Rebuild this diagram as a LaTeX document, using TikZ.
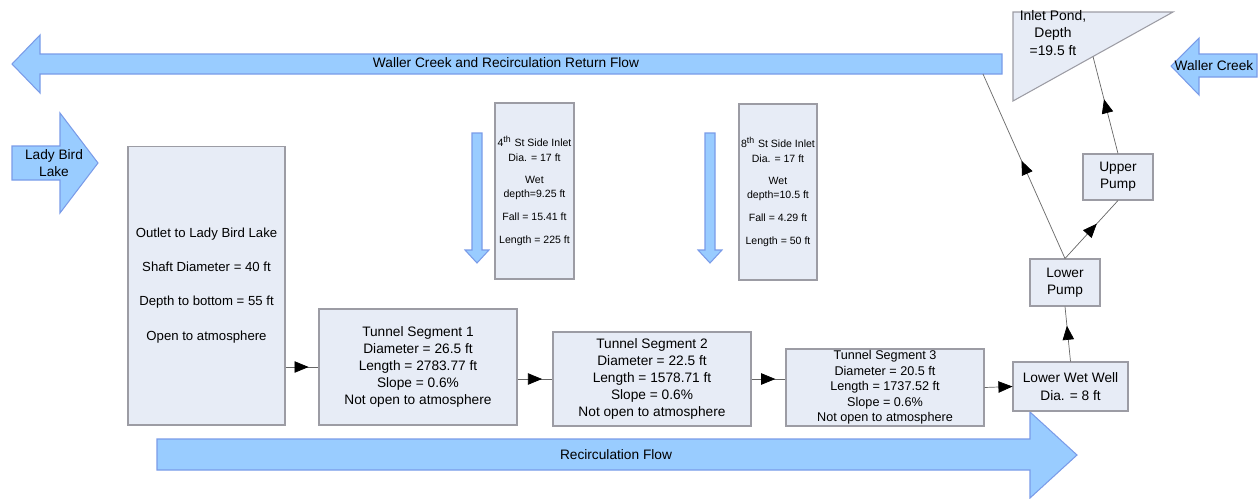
\documentclass[tikz,border=0pt]{standalone}
\usepackage{fontspec}
\setmainfont{Liberation Sans}
\usetikzlibrary{positioning}
\usetikzlibrary{calc}
\usetikzlibrary{arrows.meta}
\usetikzlibrary{decorations.markings}
\definecolor{boxfill}{HTML}{E7ECF6}
\definecolor{boxline}{HTML}{9C9CA4}
\definecolor{flowfill}{HTML}{99CCFF}
\definecolor{flowline}{HTML}{7A9BE8}
\tikzset{unit/.style={draw=boxline, fill=boxfill, align=center, inner sep=0pt, line width=0.6pt,
	font=\fontsize{7.8}{9.8}\selectfont},
	flow/.style={draw=flowline, fill=flowfill, line width=0.6pt},
	flowtext/.style={align=center, inner sep=0pt, font=\fontsize{7.8}{9.7}\selectfont},
	link/.style={draw=black!60, line width=0.4pt, postaction={decorate},
	decoration={markings, mark=at position #1 with {\arrow[black]{Triangle[length=8pt,width=6.5pt]}}}},
	link/.default=0.6}

\begin{document}
\begin{tikzpicture}[x=0.02cm, y=-0.02cm]
	\useasboundingbox (0,0) rectangle (1259,498);
	% flow arrows
	\draw[flow] (1002,54) -- (40,54) -- (40,35) -- (12,64) -- (40,93) -- (40,74) -- (1002,74) -- cycle;
	\draw[flow] (12,146) -- (60,146) -- (60,113) -- (98,163) -- (60,213) -- (60,180) -- (12,180) -- cycle;
	\draw[flow] (472,133) -- (482,133) -- (482,250) -- (489,250) -- (477,263) -- (465,250) -- (472,250) -- cycle;
	\draw[flow] (705,133) -- (715,133) -- (715,250) -- (722,250) -- (710,263) -- (698,250) -- (705,250) -- cycle;
	\draw[flow] (157,439) -- (1030,439) -- (1030,412) -- (1077,455) -- (1030,498) -- (1030,470) -- (157,470) -- cycle;
	\draw[flow] (1257,54) -- (1199,54) -- (1199,38) -- (1171,66) -- (1199,95) -- (1199,77) -- (1257,77) -- cycle;
	\node[flowtext] (returntxt) at (506,63) {Waller Creek and Recirculation Return Flow};
	\node[flowtext] (ladytxt) at (54,163) {Lady Bird\\Lake};
	\node[flowtext] (recirctxt) at (616,455) {Recirculation Flow};
	\node[flowtext] (wallertxt) at (1214,66) {Waller Creek};
	\coordinate (ret) at (983,74);
	% inlet pond
	\draw[draw=boxline, fill=boxfill, line width=0.6pt] (1013,12) coordinate (pa) -- (1173,12) coordinate (pb)
		-- (1013,101) coordinate (pc) -- cycle;
	\coordinate (pondin) at ($(pb)!0.5!(pc)$);
	\node[flowtext, font=\fontsize{7.9}{9.7}\selectfont] (pondtxt) at (1053,33) {Inlet Pond,\\Depth\\=19.5 ft};
	% shafts and tunnel
	\node[unit, minimum width=3.14cm, minimum height=5.58cm, font=\fontsize{7.5}{19.4}\selectfont] (outlet) at (206.5,285.5)
		{Outlet to Lady Bird Lake\\Shaft Diameter = 40 ft\\Depth to bottom = 55 ft\\Open to atmosphere};
	\node[unit, minimum width=1.58cm, minimum height=3.52cm, font=\fontsize{6}{8}\selectfont] (side4) at (534.5,191)
		{4\textsuperscript{th} St Side Inlet\\Dia. = 17 ft\\[5pt]Wet\\depth=9.25 ft\\[5pt]Fall = 15.41 ft\\[5pt]Length = 225 ft};
	\node[unit, minimum width=1.56cm, minimum height=3.52cm, font=\fontsize{6}{8}\selectfont] (side8) at (778,192)
		{8\textsuperscript{th} St Side Inlet\\Dia. = 17 ft\\[5pt]Wet\\depth=10.5 ft\\[5pt]Fall = 4.29 ft\\[5pt]Length = 50 ft};
	\node[unit, minimum width=3.96cm, minimum height=2.32cm] (seg1) at (418,367)
		{Tunnel Segment 1\\Diameter = 26.5 ft\\Length = 2783.77 ft\\Slope = 0.6\%\\Not open to atmosphere};
	\node[unit, minimum width=3.96cm, minimum height=1.88cm] (seg2) at (652,379)
		{Tunnel Segment 2\\Diameter = 22.5 ft\\Length = 1578.71 ft\\Slope = 0.6\%\\Not open to atmosphere};
	\node[unit, minimum width=3.96cm, minimum height=1.54cm, font=\fontsize{7.2}{8.8}\selectfont] (seg3) at (885,387.5)
		{Tunnel Segment 3\\Diameter = 20.5 ft\\Length = 1737.52 ft\\Slope = 0.6\%\\Not open to atmosphere};
	\node[unit, minimum width=2.30cm, minimum height=0.98cm] (wetwell) at (1070.5,386.5) {Lower Wet Well\\Dia. = 8 ft};
	\node[unit, minimum width=1.40cm, minimum height=0.94cm] (lowpump) at (1065,282.5) {Lower\\Pump};
	\node[unit, minimum width=1.40cm, minimum height=0.92cm] (uppump) at (1118,177) {Upper\\Pump};
	% connectors
	\draw[link=0.7] (seg1.west -| outlet.east) -- (seg1.west);
	\draw[link=0.7] (seg2.west -| seg1.east) -- (seg2.west);
	\draw[link=0.7] (seg2.east) -- (seg2.east -| seg3.west);
	\draw[link=1] (seg3.east) -- (wetwell.west);
	\draw[link=0.65] (wetwell.north) -- (lowpump.south);
	\draw[link=0.6] (lowpump.north) -- (uppump.south);
	\draw[link=0.56] (uppump.north) -- (pondin);
	\draw[link=0.53] (lowpump.north) -- (ret);
\end{tikzpicture}
\end{document}
